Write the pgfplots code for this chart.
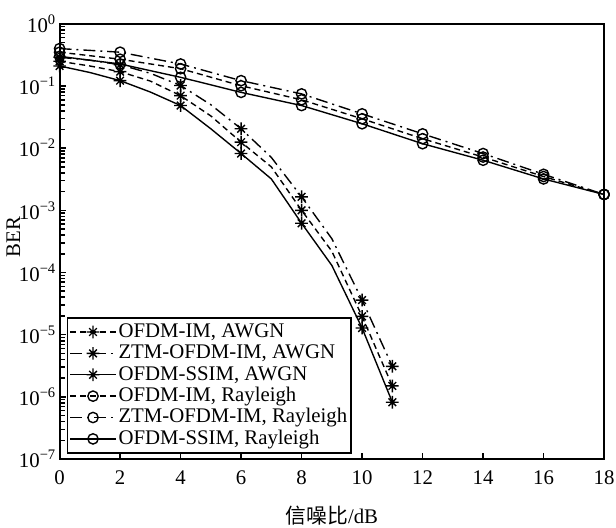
\documentclass[border=0pt]{standalone}
\usepackage{pgfplots}
\pgfplotsset{compat=1.18}
\usepackage{fontspec}
\setmainfont{Liberation Serif}
\newfontfamily\cjk{Noto Sans CJK SC}
\pgfdeclareplotmark{pstar}{%
  \pgfpathmoveto{\pgfqpoint{-\pgfplotmarksize}{0pt}}\pgfpathlineto{\pgfqpoint{\pgfplotmarksize}{0pt}}%
  \pgfpathmoveto{\pgfqpoint{0pt}{-\pgfplotmarksize}}\pgfpathlineto{\pgfqpoint{0pt}{\pgfplotmarksize}}%
  \pgfpathmoveto{\pgfqpoint{-0.6\pgfplotmarksize}{-0.6\pgfplotmarksize}}\pgfpathlineto{\pgfqpoint{0.6\pgfplotmarksize}{0.6\pgfplotmarksize}}%
  \pgfpathmoveto{\pgfqpoint{-0.6\pgfplotmarksize}{0.6\pgfplotmarksize}}\pgfpathlineto{\pgfqpoint{0.6\pgfplotmarksize}{-0.6\pgfplotmarksize}}%
  \pgfusepathqstroke}
\begin{document}
\begin{tikzpicture}
\useasboundingbox (-30bp,-34.5bp) rectangle (280bp,231bp);
\begin{axis}[
  at={(0,0)}, anchor=south west,
  scale only axis, width=274bp, height=219bp,
  ymode=log, xmin=0, xmax=18, ymin=1e-7, ymax=1,
  xtick={0,2,...,18},
  ytick={1e-7,1e-6,1e-5,1e-4,1e-3,1e-2,1e-1,1},
  yticklabels={10\textsuperscript{−7},10\textsuperscript{−6},10\textsuperscript{−5},10\textsuperscript{−4},10\textsuperscript{−3},10\textsuperscript{−2},10\textsuperscript{−1},10\textsuperscript{0}},
  minor ytick={},
  tick align=inside, xtick pos=bottom, ytick pos=left,
  major tick length=3bp,
  axis line style={line width=1bp},
  every tick/.style={black, line width=0.8bp},
  /pgf/number format/assume math mode=true,
  tick label style={font=\fontsize{10.5}{12}\selectfont},
  yticklabel style={inner xsep=1.5bp},
  xticklabel style={yshift=-2.5bp},
  xlabel={{\cjk 信噪比}/dB},
  ylabel={BER},
  label style={font=\fontsize{10.5}{12}\selectfont},
  xlabel style={at={(axis description cs:0.5,-0.13)}, anchor=center},
  ylabel style={at={(axis description cs:-0.085,0.51)}, anchor=center},
  legend cell align=left,
  legend style={at={(axis description cs:0.0128,0.0114)}, anchor=south west,
    draw=black, line width=0.9bp, inner xsep=1bp, inner ysep=1.8bp,
    font=\fontsize{10.5}{12}\selectfont,
    nodes={inner ysep=0.5pt, inner xsep=1pt, text height=7.6pt, text depth=2.2pt}},
  legend image code/.code={\draw[#1, mark indices={2}] plot coordinates {(0bp,0bp) (11.5bp,0bp) (23bp,0bp)};},
  every axis plot/.append style={line width=0.7bp, black},
]
% AWGN
\addplot[dash pattern=on 3bp off 2bp, mark=pstar, mark size=3.2bp, mark options={solid}, mark indices={1,3,5,7,9,11,12}]
coordinates {(0,0.25) (1,0.21) (2,0.17) (3,0.12) (4,0.07) (5,0.033) (6,0.0125) (7,5e-3) (8,1.0e-3) (9,2.2e-4) (10,1.97e-5) (11,1.5e-6)};
\addlegendentry{OFDM-IM, AWGN}
\addplot[dash pattern=on 6bp off 2.5bp on 1bp off 2.5bp, mark=pstar, mark size=3.2bp, mark options={solid}, mark indices={1,3,5,7,9,11,12}]
coordinates {(0,0.29) (1,0.26) (2,0.22) (3,0.16) (4,0.102) (5,0.05) (6,0.0205) (7,7.1e-3) (8,1.65e-3) (9,3.5e-4) (10,3.6e-5) (11,3.1e-6)};
\addlegendentry{ZTM-OFDM-IM, AWGN}
\addplot[solid, mark=pstar, mark size=3.2bp, mark indices={1,3,5,7,9,11,12}]
coordinates {(0,0.21) (1,0.165) (2,0.122) (3,0.08) (4,0.0485) (5,0.0205) (6,0.0082) (7,3.2e-3) (8,6.2e-4) (9,1.3e-4) (10,1.28e-5) (11,8.2e-7)};
\addlegendentry{OFDM-SSIM, AWGN}
% Rayleigh
\addplot[dash pattern=on 3bp off 2bp, mark=o, mark size=2.6bp, mark options={solid}]
coordinates {(0,0.35) (2,0.27) (4,0.19) (6,0.101) (8,0.060) (10,0.0297) (12,0.0142) (14,7.2e-3) (16,3.5e-3) (18,1.8e-3)};
\addlegendentry{OFDM-IM, Rayleigh}
\addplot[dash pattern=on 6bp off 2.5bp on 1bp off 2.5bp, mark=o, mark size=2.6bp, mark options={solid}]
coordinates {(0,0.40) (2,0.35) (4,0.226) (6,0.122) (8,0.0747) (10,0.0357) (12,0.017) (14,8.2e-3) (16,3.8e-3) (18,1.8e-3)};
\addlegendentry{ZTM-OFDM-IM, Rayleigh}
\addplot[solid, mark=o, mark size=2.6bp]
coordinates {(0,0.30) (2,0.226) (4,0.138) (6,0.079) (8,0.0485) (10,0.0247) (12,0.0118) (14,6.4e-3) (16,3.2e-3) (18,1.8e-3)};
\addlegendentry{OFDM-SSIM, Rayleigh}
\end{axis}
\end{tikzpicture}
\end{document}
